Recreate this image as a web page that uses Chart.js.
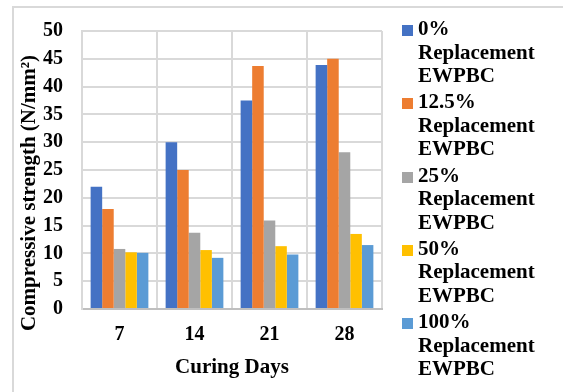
<!DOCTYPE html>
<html>
<head>
<meta charset="utf-8">
<script src="https://cdn.jsdelivr.net/npm/chart.js@4.4.1/dist/chart.umd.min.js"></script>
<style>
    html, body { margin: 0; padding: 0; background: #fff; }
    #wrap { position: relative; width: 563px; height: 392px; overflow: hidden; }
    #frame { position: absolute; left: 12px; top: 6px; width: 600px; height: 450px;
             border-left: 2px solid #d9d9d9; border-top: 2px solid #d9d9d9; }
    #chart { position: absolute; left: 0; top: 0; }
    #legend { position: absolute; left: 402px; top: 17px; font-family: 'Liberation Serif', serif;
              font-weight: bold; font-size: 21px; line-height: 23.5px; color: #000; }
    .item { display: flex; align-items: flex-start; margin-bottom: 2.8px; }
    .box { width: 11px; height: 11px; margin-top: 8px; margin-right: 5px; flex: none; }
</style>
</head>
<body>
<div id="wrap">
    <div id="frame"></div>
    <canvas id="chart" width="563" height="392"></canvas>
    <div id="legend"></div>
</div>
<script>
// Données
var days = ['7', '14', '21', '28'];
var seriesNames = ['0%', '12.5%', '25%', '50%', '100%'];
var seriesColors = ['#4472c4', '#ed7d31', '#a5a5a5', '#ffc000', '#5b9bd5'];
var rep0   = [22.0, 30.0, 37.5, 43.9];
var rep12  = [18.0, 25.0, 43.7, 45.0];
var rep25  = [10.8, 13.7, 15.9, 28.2];
var rep50  = [10.2, 10.6, 11.3, 13.5];
var rep100 = [10.1, 9.2, 9.8, 11.5];
var yTicks = [0, 5, 10, 15, 20, 25, 30, 35, 40, 45, 50];

var allSeries = [rep0, rep12, rep25, rep50, rep100];
var fontFamily = "'Liberation Serif', 'Times New Roman', serif";

var datasets = allSeries.map(function (vals, i) {
    return {
        label: seriesNames[i] + ' Replacement EWPBC',
        data: vals,
        backgroundColor: seriesColors[i],
        borderWidth: 0
    };
});

// Titre de l'axe Y dessiné à la main (décalé vers le bas comme dans Excel)
var yTitlePlugin = {
    id: 'yTitle',
    afterDraw: function (chart) {
        var area = chart.chartArea;
        var ctx = chart.ctx;
        ctx.save();
        ctx.translate(30, (area.top + area.bottom) / 2 + 23);
        ctx.rotate(-Math.PI / 2);
        ctx.font = 'bold 21px ' + fontFamily;
        ctx.fillStyle = '#000';
        ctx.textAlign = 'center';
        ctx.textBaseline = 'middle';
        ctx.fillText('Compressive strength (N/mm\u00b2)', 0, 0);
        ctx.restore();
    }
};

new Chart(document.getElementById('chart'), {
    type: 'bar',
    data: { labels: days, datasets: datasets },
    options: {
        responsive: false,
        animation: false,
        layout: { padding: { left: 0, top: 27, right: 181, bottom: 12 } },
        datasets: { bar: { barPercentage: 1, categoryPercentage: 0.77 } },
        plugins: { legend: { display: false }, tooltip: { enabled: false } },
        scales: {
            x: {
                grid: { color: '#d9d9d9', lineWidth: 2, drawTicks: false, offset: true },
                border: { color: '#bfbfbf', width: 2 },
                ticks: { color: '#000', padding: 14, font: { family: fontFamily, size: 20, weight: 'bold' } },
                title: {
                    display: true, text: 'Curing Days', color: '#000',
                    padding: { top: 0, bottom: 0 },
                    font: { family: fontFamily, size: 21, weight: 'bold' }
                },
                afterFit: function (scale) { scale.height = 71; }
            },
            y: {
                min: 0,
                max: 50,
                afterBuildTicks: function (scale) {
                    scale.ticks = yTicks.map(function (v) { return { value: v }; });
                },
                grid: { color: '#d9d9d9', lineWidth: 2, drawTicks: false },
                border: { color: '#d9d9d9', width: 2 },
                ticks: { color: '#000', padding: 19, font: { family: fontFamily, size: 20, weight: 'bold' } },
                afterFit: function (scale) { scale.width = 82; }
            }
        }
    },
    plugins: [yTitlePlugin]
});

// Légende HTML (texte sur trois lignes)
var legend = document.getElementById('legend');
seriesNames.forEach(function (name, i) {
    var item = document.createElement('div');
    item.className = 'item';
    item.innerHTML = '<span class="box" style="background:' + seriesColors[i] + '"></span>' +
        '<span>' + name + '<br>Replacement<br>EWPBC</span>';
    legend.appendChild(item);
});
</script>
</body>
</html>
